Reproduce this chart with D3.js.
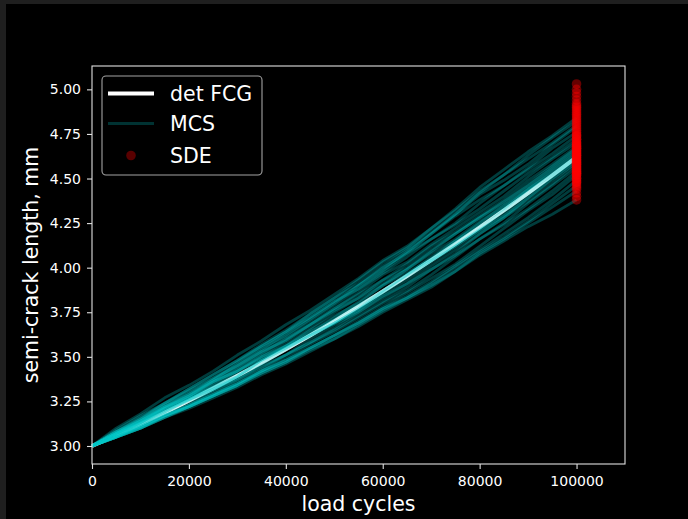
<!DOCTYPE html>
<html>
<head>
<meta charset="utf-8">
<script src="https://cdn.jsdelivr.net/npm/d3@7"></script>
<style>
  body { margin: 0; background: #000; }
  svg { display: block; }
</style>
</head>
<body>
<script>
// load cycles at which the curves were sampled
let cycles = [0, 5000, 10000, 15000, 20000, 25000, 30000, 35000, 40000, 45000, 50000,
  55000, 60000, 65000, 70000, 75000, 80000, 85000, 90000, 95000, 100000];

// deterministic fatigue crack growth
let detFCG = [3.000, 3.060, 3.122, 3.187, 3.254, 3.323, 3.394, 3.467, 3.542, 3.620, 3.700,
  3.782, 3.866, 3.953, 4.042, 4.133, 4.226, 4.321, 4.418, 4.518, 4.620];

// Monte Carlo sample paths
let mcsPaths = [
  [3.00,3.10,3.18,3.27,3.34,3.42,3.51,3.59,3.68,3.76,3.85,3.94,4.04,4.12,4.22,4.32,4.43,4.52,4.63,4.73,4.82],
  [3.00,3.08,3.16,3.24,3.32,3.40,3.48,3.57,3.65,3.74,3.83,3.93,4.03,4.11,4.22,4.33,4.45,4.55,4.65,4.74,4.84],
  [3.00,3.09,3.17,3.24,3.32,3.40,3.48,3.56,3.64,3.74,3.83,3.91,4.01,4.10,4.20,4.30,4.41,4.49,4.58,4.69,4.79],
  [3.00,3.08,3.15,3.24,3.31,3.38,3.47,3.56,3.64,3.72,3.81,3.90,3.99,4.09,4.19,4.29,4.38,4.46,4.56,4.67,4.76],
  [3.00,3.07,3.15,3.23,3.29,3.37,3.46,3.55,3.62,3.71,3.80,3.90,4.00,4.08,4.16,4.25,4.36,4.46,4.55,4.64,4.74],
  [3.00,3.08,3.14,3.22,3.30,3.38,3.45,3.54,3.63,3.72,3.81,3.88,3.97,4.06,4.16,4.24,4.33,4.43,4.53,4.62,4.72],
  [3.00,3.07,3.14,3.21,3.28,3.37,3.45,3.53,3.59,3.68,3.77,3.86,3.96,4.03,4.13,4.22,4.31,4.40,4.51,4.61,4.70],
  [3.00,3.07,3.13,3.22,3.29,3.36,3.42,3.51,3.59,3.68,3.76,3.83,3.93,4.02,4.12,4.20,4.29,4.38,4.49,4.58,4.68],
  [3.00,3.08,3.15,3.22,3.27,3.35,3.43,3.52,3.60,3.68,3.77,3.85,3.93,4.00,4.10,4.19,4.28,4.36,4.47,4.57,4.67],
  [3.00,3.06,3.13,3.21,3.27,3.33,3.41,3.50,3.57,3.66,3.75,3.83,3.91,3.99,4.09,4.19,4.28,4.37,4.46,4.56,4.66],
  [3.00,3.07,3.14,3.21,3.28,3.36,3.42,3.50,3.56,3.65,3.73,3.80,3.90,3.99,4.08,4.16,4.26,4.34,4.45,4.55,4.65],
  [3.00,3.07,3.12,3.20,3.27,3.34,3.42,3.49,3.56,3.63,3.72,3.81,3.90,3.97,4.05,4.15,4.25,4.35,4.44,4.54,4.64],
  [3.00,3.07,3.13,3.19,3.26,3.33,3.39,3.48,3.56,3.64,3.71,3.79,3.87,3.96,4.06,4.15,4.24,4.33,4.44,4.53,4.63],
  [3.00,3.06,3.13,3.20,3.25,3.31,3.39,3.48,3.55,3.62,3.69,3.77,3.87,3.96,4.04,4.13,4.22,4.32,4.43,4.52,4.62],
  [3.00,3.05,3.12,3.19,3.26,3.32,3.38,3.46,3.54,3.62,3.69,3.76,3.86,3.95,4.04,4.12,4.21,4.30,4.41,4.51,4.61],
  [3.00,3.07,3.13,3.21,3.26,3.32,3.39,3.48,3.55,3.62,3.69,3.77,3.85,3.93,4.03,4.12,4.21,4.29,4.39,4.50,4.60],
  [3.00,3.05,3.11,3.17,3.23,3.31,3.37,3.44,3.51,3.60,3.68,3.75,3.83,3.91,4.01,4.10,4.19,4.28,4.39,4.49,4.59],
  [3.00,3.06,3.11,3.18,3.23,3.29,3.37,3.45,3.51,3.58,3.66,3.75,3.84,3.91,3.99,4.08,4.19,4.28,4.37,4.47,4.58],
  [3.00,3.05,3.10,3.17,3.22,3.29,3.35,3.43,3.51,3.58,3.65,3.73,3.81,3.89,3.99,4.07,4.16,4.25,4.36,4.46,4.56],
  [3.00,3.06,3.11,3.17,3.23,3.29,3.35,3.42,3.49,3.57,3.64,3.72,3.80,3.87,3.96,4.06,4.16,4.24,4.33,4.43,4.54],
  [3.00,3.05,3.10,3.16,3.22,3.28,3.35,3.42,3.48,3.55,3.62,3.70,3.78,3.86,3.94,4.02,4.12,4.22,4.32,4.41,4.52],
  [3.00,3.05,3.10,3.17,3.22,3.28,3.34,3.41,3.47,3.55,3.62,3.69,3.77,3.84,3.92,4.01,4.10,4.19,4.28,4.38,4.49],
  [3.00,3.05,3.11,3.17,3.22,3.28,3.34,3.42,3.48,3.55,3.62,3.69,3.77,3.83,3.91,4.00,4.09,4.17,4.26,4.36,4.46],
  [3.00,3.05,3.10,3.16,3.22,3.28,3.34,3.41,3.47,3.54,3.60,3.68,3.76,3.83,3.90,3.98,4.08,4.16,4.25,4.34,4.43],
  [3.00,3.05,3.10,3.16,3.21,3.27,3.33,3.40,3.46,3.53,3.60,3.67,3.75,3.82,3.89,3.98,4.07,4.15,4.23,4.30,4.38],
  [3.00,3.07,3.14,3.22,3.28,3.36,3.44,3.53,3.61,3.70,3.79,3.88,3.98,4.08,4.19,4.30,4.42,4.52,4.61,4.70,4.80]
];

// SDE solution at the final cycle count
let sdeCycle = 100000;
let sdeValues = [4.38, 4.40, 4.42, 4.44, 4.45, 4.46, 4.47, 4.48, 4.48, 4.49, 4.50, 4.50, 4.51, 4.52,
  4.52, 4.53, 4.53, 4.54, 4.54, 4.55, 4.55, 4.56, 4.56, 4.57, 4.57, 4.58, 4.58, 4.59, 4.59, 4.60,
  4.60, 4.61, 4.61, 4.62, 4.62, 4.63, 4.63, 4.64, 4.64, 4.65, 4.65, 4.66, 4.66, 4.67, 4.67, 4.68,
  4.68, 4.69, 4.69, 4.70, 4.70, 4.71, 4.72, 4.72, 4.73, 4.74, 4.74, 4.75, 4.76, 4.77, 4.78, 4.79,
  4.80, 4.81, 4.82, 4.83, 4.84, 4.85, 4.86, 4.87, 4.88, 4.89, 4.90, 4.91, 4.92, 4.94, 4.96, 4.98,
  5.00, 5.03];

let xTicks = [0, 20000, 40000, 60000, 80000, 100000];
let yTicks = [3.00, 3.25, 3.50, 3.75, 4.00, 4.25, 4.50, 4.75, 5.00];
let legendLabels = ["det FCG", "MCS", "SDE"];

let width = 688;
let height = 519;
let font = "'DejaVu Sans', sans-serif";
let mcsColor = "#00c8c8";

let svg = d3.select("body").append("svg")
  .attr("width", width)
  .attr("height", height);

svg.append("rect").attr("width", width).attr("height", height).attr("fill", "#000");
// window chrome strips around the figure
svg.append("rect").attr("width", width).attr("height", 4).attr("fill", "#1f1f1f");
svg.append("rect").attr("width", 6).attr("height", height).attr("fill", "#1f1f1f");

let plotLeft = 92, plotRight = 625, plotTop = 66, plotBottom = 464;

let x = d3.scaleLinear().domain([0, 110000]).range([plotLeft, plotRight]);
let y = d3.scaleLinear().domain([2.899, 5.131]).range([plotBottom, plotTop]);

let line = d3.line()
  .x((d, i) => x(cycles[i]))
  .y(d => y(d));

let plot = svg.append("g");

// deterministic curve underneath, MCS paths tint it
plot.append("path")
  .datum(detFCG)
  .attr("d", line)
  .attr("fill", "none")
  .attr("stroke", "#fff")
  .attr("stroke-width", 4);

plot.append("g").selectAll("path")
  .data(mcsPaths)
  .enter()
  .append("path")
  .attr("d", line)
  .attr("fill", "none")
  .attr("stroke", mcsColor)
  .attr("stroke-opacity", 0.3)
  .attr("stroke-width", 2.8)
  .attr("stroke-linejoin", "round");

plot.append("g").selectAll("circle")
  .data(sdeValues)
  .enter()
  .append("circle")
  .attr("cx", x(sdeCycle))
  .attr("cy", d => y(d))
  .attr("r", 4.8)
  .attr("fill", "#ff0000")
  .attr("fill-opacity", 0.4);

// axes
let xAxis = svg.append("g")
  .attr("transform", `translate(0,${plotBottom})`)
  .call(d3.axisBottom(x).tickValues(xTicks).tickFormat(d3.format("d")).tickSize(5).tickSizeOuter(0).tickPadding(7));

let yAxis = svg.append("g")
  .attr("transform", `translate(${plotLeft},0)`)
  .call(d3.axisLeft(y).tickValues(yTicks).tickFormat(d3.format(".2f")).tickSize(5).tickSizeOuter(0).tickPadding(6));

[xAxis, yAxis].forEach(a => {
  a.select(".domain").remove();
  a.selectAll(".tick line").attr("stroke", "#e0e0e0").attr("stroke-width", 1.1);
  a.selectAll(".tick text").attr("fill", "#fff").style("font-family", font).style("font-size", "14px");
});

svg.append("rect")
  .attr("x", plotLeft).attr("y", plotTop)
  .attr("width", plotRight - plotLeft).attr("height", plotBottom - plotTop)
  .attr("fill", "none")
  .attr("stroke", "#e0e0e0")
  .attr("stroke-width", 1.1);

svg.append("text")
  .attr("x", (plotLeft + plotRight) / 2)
  .attr("y", 511)
  .attr("text-anchor", "middle")
  .attr("fill", "#fff")
  .style("font-family", font)
  .style("font-size", "20.5px")
  .text("load cycles");

svg.append("text")
  .attr("transform", `translate(38,${(plotTop + plotBottom) / 2}) rotate(-90)`)
  .attr("text-anchor", "middle")
  .attr("fill", "#fff")
  .style("font-family", font)
  .style("font-size", "20.5px")
  .text("semi-crack length, mm");

// legend
let legend = svg.append("g");
legend.append("rect")
  .attr("x", 102).attr("y", 76)
  .attr("width", 160).attr("height", 99)
  .attr("rx", 4)
  .attr("fill", "#000").attr("fill-opacity", 0.8)
  .attr("stroke", "#cccccc").attr("stroke-opacity", 0.8)
  .attr("stroke-width", 1.1);

let rowY = [93.5, 123.5, 155.5];

legend.append("line")
  .attr("x1", 108).attr("x2", 154)
  .attr("y1", rowY[0]).attr("y2", rowY[0])
  .attr("stroke", "#fff").attr("stroke-width", 4);

legend.append("line")
  .attr("x1", 108).attr("x2", 154)
  .attr("y1", rowY[1]).attr("y2", rowY[1])
  .attr("stroke", mcsColor).attr("stroke-opacity", 0.25).attr("stroke-width", 2.8);

legend.append("circle")
  .attr("cx", 131).attr("cy", rowY[2]).attr("r", 4.8)
  .attr("fill", "#ff0000").attr("fill-opacity", 0.35);

legend.selectAll("text.lab")
  .data(legendLabels)
  .enter()
  .append("text")
  .attr("class", "lab")
  .attr("x", 170)
  .attr("y", (d, i) => rowY[i])
  .attr("dy", "0.36em")
  .attr("fill", "#fff")
  .style("font-family", font)
  .style("font-size", "20.5px")
  .text(d => d);
</script>
</body>
</html>
